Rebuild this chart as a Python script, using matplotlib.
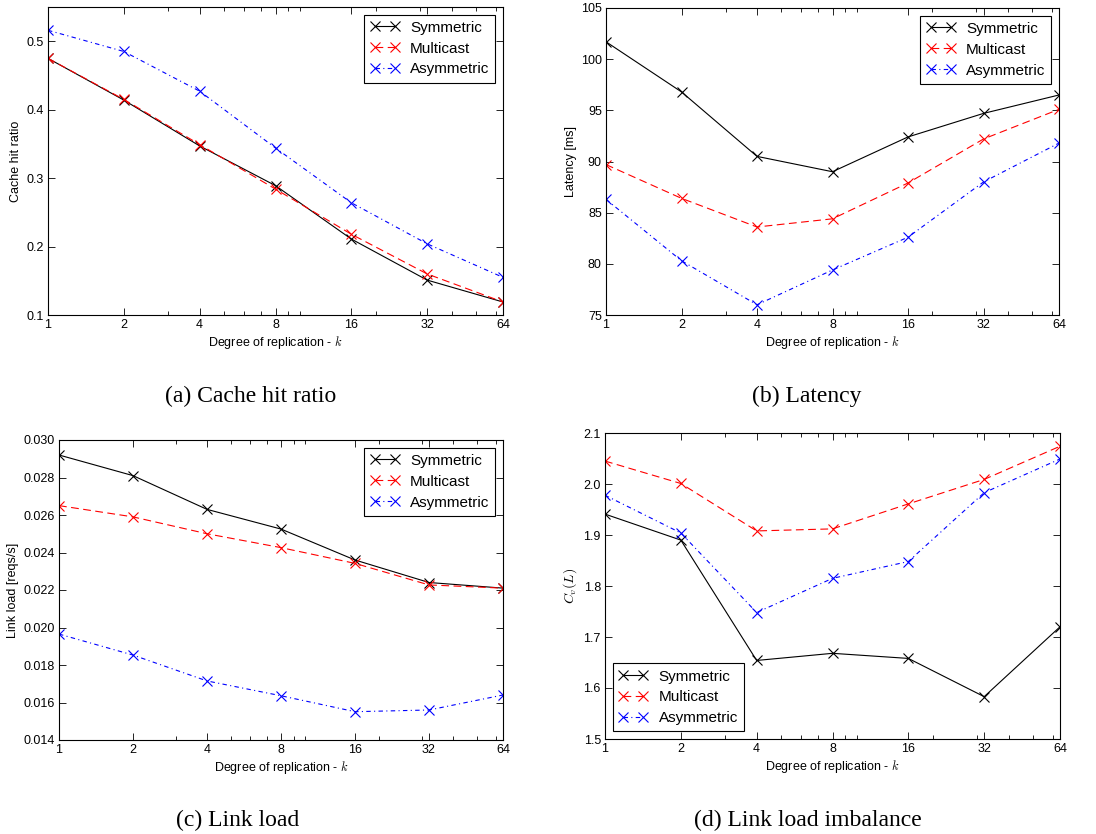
import matplotlib
matplotlib.use("Agg")
from matplotlib import pyplot as plt
from matplotlib.ticker import NullFormatter, FixedLocator

plt.rcParams["font.family"] = ["Liberation Sans", "DejaVu Sans"]
plt.rcParams["mathtext.fontset"] = "cm"

k = [1, 2, 4, 8, 16, 32, 64]
labels = ["Symmetric", "Multicast", "Asymmetric"]

hit_sym = [0.475, 0.414, 0.347, 0.289, 0.211, 0.151, 0.119]
hit_mc = [0.475, 0.415, 0.349, 0.284, 0.218, 0.160, 0.119]
hit_asym = [0.516, 0.485, 0.427, 0.344, 0.264, 0.204, 0.155]

lat_sym = [101.7, 96.8, 90.5, 89.0, 92.4, 94.7, 96.5]
lat_mc = [89.7, 86.4, 83.6, 84.4, 87.9, 92.2, 95.1]
lat_asym = [86.3, 80.3, 76.0, 79.4, 82.6, 88.0, 91.8]

load_sym = [0.0292, 0.0281, 0.0263, 0.02525, 0.0236, 0.0224, 0.0221]
load_mc = [0.0265, 0.0259, 0.0250, 0.02426, 0.02342, 0.02227, 0.0221]
load_asym = [0.01965, 0.01853, 0.01715, 0.01636, 0.01551, 0.0156, 0.0164]

cv_sym = [1.941, 1.890, 1.654, 1.668, 1.658, 1.583, 1.720]
cv_mc = [2.045, 2.001, 1.908, 1.912, 1.961, 2.009, 2.074]
cv_asym = [1.978, 1.904, 1.748, 1.815, 1.848, 1.983, 2.049]

W, H = 1096, 834
fig = plt.figure(figsize=(W / 100, H / 100), dpi=100)

def box(l, r, t, b):
    return [l / W, 1 - b / H, (r - l) / W, (b - t) / H]

styles = [dict(color="k", linestyle="-"),
          dict(color="r", dashes=(7, 4)),
          dict(color="b", dashes=(4, 3, 1, 3))]

def panel(rect, series, ylim, yticks, ylabel, fmt, legloc, caption, cap_xy, ylsize=9):
    ax = fig.add_axes(box(*rect))
    for s, lab, st in zip(series, labels, styles):
        ax.plot(k, s, marker="x", markersize=6.5, mew=0.8, lw=0.8,
                label=lab, **st)
    ax.set_xscale("log", base=2)
    ax.set_xlim(1, 64)
    ax.set_xticks(k)
    ax.set_xticklabels([str(v) for v in k])
    ax.xaxis.set_minor_locator(FixedLocator([3, 5, 6, 7, 9, 10, 20, 30, 40, 50, 60]))
    ax.xaxis.set_minor_formatter(NullFormatter())
    ax.set_ylim(*ylim)
    ax.set_yticks(yticks)
    ax.set_yticklabels([fmt.format(v) for v in yticks])
    ax.tick_params(which="both", direction="in", top=True, right=True,
                   labelsize=9, pad=3)
    ax.tick_params(which="major", length=5, width=0.6)
    ax.tick_params(which="minor", length=3, width=0.6)
    for sp in ax.spines.values():
        sp.set_linewidth(0.8)
    ax.set_xlabel("Degree of replication - $k$", fontsize=9, labelpad=2)
    ax.set_ylabel(ylabel, fontsize=ylsize, labelpad=3)
    leg = ax.legend(loc=legloc, numpoints=2, handlelength=1.9, fontsize=11,
                    fancybox=False, edgecolor="k", framealpha=1,
                    borderpad=0.4, labelspacing=0.45, handletextpad=0.7)
    leg.get_frame().set_linewidth(0.8)
    fig.text(cap_xy[0] / W, 1 - cap_xy[1] / H, caption, ha="center", va="center",
             fontsize=17, family="Liberation Serif")
    return ax

panel((48, 503, 7, 315), [hit_sym, hit_mc, hit_asym], (0.1, 0.55),
      [0.1, 0.2, 0.3, 0.4, 0.5], "Cache hit ratio", "{:.1f}", "upper right",
      "(a) Cache hit ratio", (251, 396))
panel((606, 1059, 8, 315), [lat_sym, lat_mc, lat_asym], (75, 105),
      [75, 80, 85, 90, 95, 100, 105], "Latency [ms]", "{:d}", "upper right",
      "(b) Latency", (807, 396))
panel((59, 503, 440, 740), [load_sym, load_mc, load_asym], (0.014, 0.030),
      [0.014, 0.016, 0.018, 0.020, 0.022, 0.024, 0.026, 0.028, 0.030],
      "Link load [reqs/s]", "{:.3f}", "upper right",
      "(c) Link load", (238, 820))
panel((605, 1060, 433, 739), [cv_sym, cv_mc, cv_asym], (1.5, 2.1),
      [1.5, 1.6, 1.7, 1.8, 1.9, 2.0, 2.1], "$C_v(L)$", "{:.1f}", "lower left",
      "(d) Link load imbalance", (808, 820), ylsize=10)

fig.savefig("out.png", dpi=100)
